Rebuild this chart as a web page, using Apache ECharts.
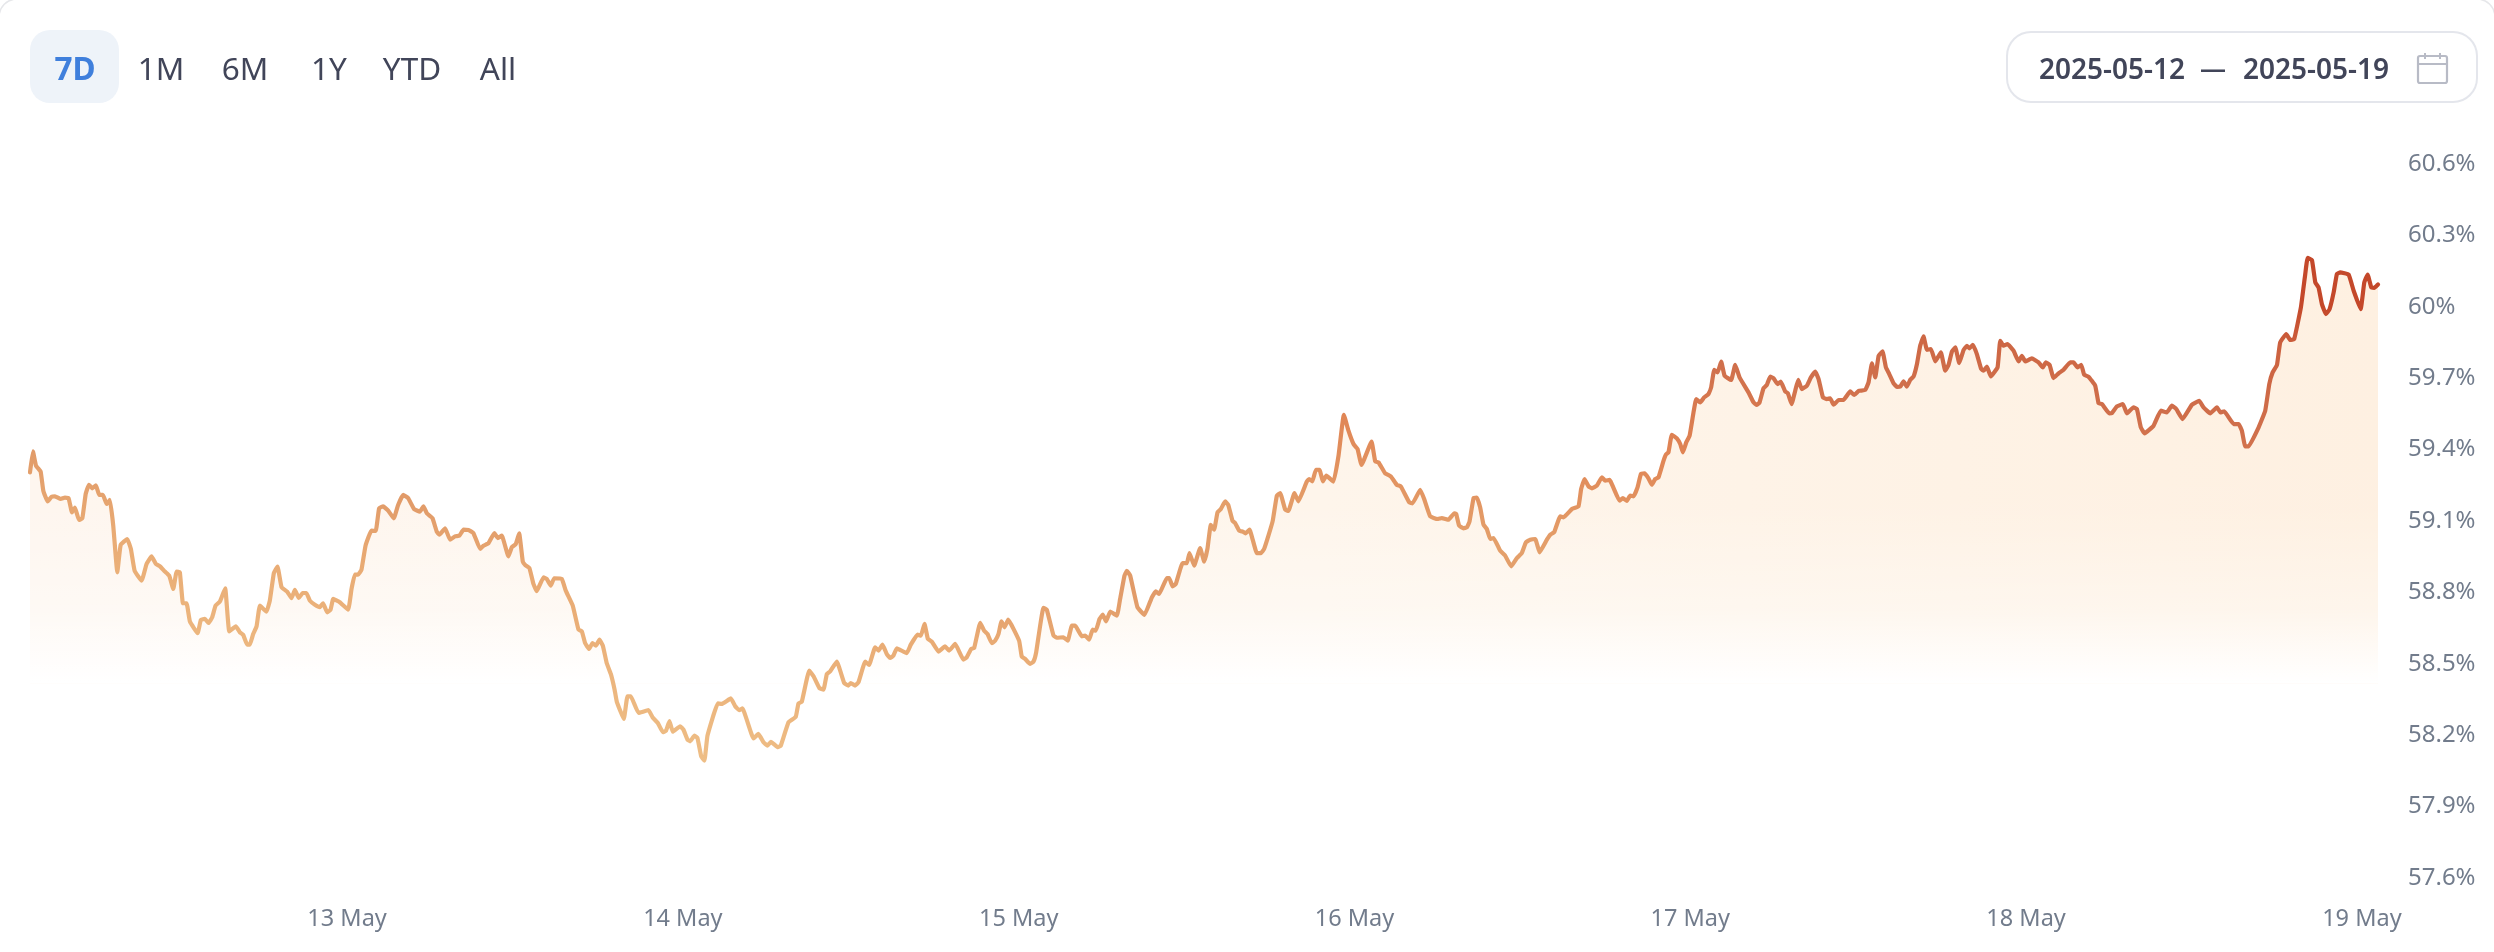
<!DOCTYPE html>
<html><head><meta charset="utf-8">
<style>html,body{margin:0;padding:0;background:#fff}#c{width:2494px;height:952px}</style>
<script src="https://cdn.jsdelivr.net/npm/echarts@6/dist/echarts.min.js"></script>
</head><body><div id="c"></div>
<script>
const rangeButtons=['7D','1M','6M','1Y','YTD','All'];
const dateFrom='2025-05-12', dateTo='2025-05-19';
const dayLabels=['13 May','14 May','15 May','16 May','17 May','18 May','19 May'];
const dayOffsets=[24,48,72,96,120,144,168];
const yMin=57.6,yMax=60.6,yStep=0.3;
const hoursSinceMay12=[1.34,1.55,1.77,2.10,2.29,2.60,2.89,3.13,3.53,3.84,4.10,4.34,4.55,4.84,5.08,5.32,5.55,5.79,6.05,6.29,6.55,6.82,7.05,7.29,7.58,7.82,8.29,8.55,8.82,9.32,9.67,10.03,10.34,10.63,10.98,11.29,11.58,11.82,12.05,12.27,12.53,12.77,13.32,13.55,13.84,14.10,14.36,14.60,14.91,15.29,15.58,16.05,16.34,16.58,16.86,17.05,17.29,17.53,17.77,18.24,18.48,18.77,19.03,19.32,19.72,20.03,20.27,20.55,20.82,21.10,21.34,21.70,22.05,22.29,22.58,22.82,23.01,23.48,24.08,24.32,24.55,24.79,25.03,25.32,25.74,26.05,26.29,26.58,26.94,27.34,27.65,28.01,28.36,28.79,29.20,
29.46,29.70,30.10,30.41,30.60,31.01,31.36,31.72,32.03,32.32,32.67,33.03,33.51,33.75,34.10,34.53,34.77,35.06,35.53,35.77,36.06,36.30,36.56,36.73,37.03,37.32,37.56,38.04,38.27,38.56,38.80,39.35,39.63,40.13,40.54,40.78,41.01,41.30,41.54,41.78,42.04,42.28,42.56,42.85,43.11,43.28,43.78,44.04,44.28,44.83,45.54,45.83,46.21,46.57,46.80,47.04,47.28,47.80,48.04,48.33,48.52,48.83,49.04,49.31,49.54,49.76,50.50,50.78,51.43,51.74,52.02,52.26,53.05,53.40,53.76,54.05,54.29,54.79,55.00,55.55,56.07,56.26,56.50,57.03,57.34,57.76,
58.05,58.29,58.52,59.00,59.53,59.83,60.00,60.31,60.55,61.03,61.31,61.74,61.98,62.27,62.57,62.81,63.05,63.29,64.00,64.29,64.77,65.01,65.27,65.51,65.79,66.27,66.74,67.03,67.46,68.05,68.29,68.60,68.82,69.25,69.53,69.77,70.08,70.32,70.56,70.77,70.99,71.25,72.03,72.22,72.46,72.82,73.06,73.25,73.77,74.01,74.49,74.73,75.20,75.51,75.80,76.04,76.51,76.75,77.04,77.28,77.51,77.78,78.01,78.25,78.54,79.02,79.25,79.56,79.73,79.97,80.49,80.99,81.52,81.80,82.04,82.59,82.76,83.00,83.23,83.71,84.02,84.21,84.54,84.97,
85.26,85.49,85.73,85.97,86.21,86.45,86.76,86.98,87.28,87.47,87.76,88.02,88.21,88.50,89.02,89.31,89.54,89.85,90.16,90.45,90.69,91.05,91.28,91.71,91.99,92.59,92.76,92.99,93.24,93.50,93.74,93.98,94.50,94.86,95.24,95.57,95.93,96.22,96.50,97.22,97.48,97.72,98.19,98.60,99.03,99.31,99.91,100.15,100.70,100.98,101.41,101.93,102.24,102.72,103.13,103.27,103.48,103.79,104.03,104.22,104.51,104.75,104.98,105.22,105.46,105.70,105.94,106.41,106.77,107.20,107.61,107.96,108.25,108.56,108.92,109.23,109.75,109.99,110.27,110.70,110.94,111.54,112.01,112.20,112.44,112.73,112.97,113.32,113.68,113.92,114.23,114.94,
115.18,115.47,115.70,115.94,116.23,116.47,116.73,117.01,117.25,117.49,117.73,118.09,118.25,118.44,118.68,119.04,119.28,119.47,119.71,119.95,120.23,120.42,120.71,120.99,121.30,121.49,121.71,121.95,122.21,122.45,122.92,123.21,123.52,124.16,124.52,124.76,124.95,125.23,125.47,125.71,125.95,126.24,126.47,126.78,126.97,127.24,127.50,127.71,127.97,128.33,128.62,128.93,129.17,129.48,129.76,130.00,130.24,130.60,130.95,131.43,131.72,132.03,132.50,132.74,132.98,133.22,133.46,133.74,133.98,134.22,134.53,134.77,135.00,135.24,135.48,135.72,135.96,136.20,136.43,136.67,136.91,137.20,137.51,137.91,138.22,138.46,138.70,138.94,139.22,139.53,139.77,139.94,140.20,140.48,140.79,140.96,141.20,141.48,141.96,142.15,
142.39,142.67,143.10,143.46,143.70,143.94,144.41,144.89,145.20,145.41,145.68,145.96,146.32,146.68,147.15,147.39,147.68,147.94,148.15,148.46,148.94,149.18,149.42,149.94,150.13,150.49,150.92,151.20,151.68,151.92,152.20,152.47,153.11,153.63,154.06,154.42,154.73,155.18,155.85,156.37,156.68,157.16,157.64,157.88,158.16,158.83,159.19,159.42,159.66,159.90,160.62,161.09,161.38,161.62,161.93,162.16,162.59,162.88,163.16,163.64,163.95,164.12,164.43,164.67,164.90,165.14,165.43,165.69,165.98,166.21,166.45,167.05,167.41,167.91,168.17,168.41,168.67,168.88,169.15];
const dominancePct=[59.296,59.384,59.324,59.299,59.219,59.174,59.194,59.195,59.184,59.190,59.187,59.128,59.148,59.096,59.103,59.205,59.244,59.229,59.241,59.201,59.201,59.163,59.180,59.072,58.876,58.991,59.016,58.974,58.882,58.841,58.911,58.943,58.911,58.901,58.879,58.862,58.806,58.879,58.876,58.746,58.746,58.669,58.620,58.676,58.680,58.663,58.687,58.736,58.753,58.809,58.628,58.649,58.624,58.613,58.572,58.572,58.617,58.648,58.736,58.711,58.757,58.873,58.900,58.813,58.795,58.767,58.802,58.768,58.789,58.789,58.757,58.740,58.730,58.746,58.708,58.719,58.764,58.750,58.719,58.806,58.866,58.866,58.887,58.988,59.051,59.050,59.145,59.153,59.135,59.103,59.159,59.201,59.188,59.142,59.131,
59.153,59.124,59.104,59.047,59.034,59.061,59.013,59.027,59.030,59.055,59.054,59.041,58.974,58.988,58.998,59.041,59.020,59.030,58.943,58.981,58.995,59.040,58.921,58.907,58.894,58.827,58.797,58.855,58.848,58.820,58.851,58.848,58.799,58.736,58.635,58.628,58.579,58.554,58.579,58.568,58.593,58.568,58.494,58.449,58.386,58.332,58.260,58.355,58.355,58.285,58.297,58.267,58.243,58.204,58.211,58.251,58.206,58.229,58.215,58.173,58.166,58.190,58.180,58.103,58.085,58.190,58.325,58.323,58.346,58.313,58.297,58.304,58.178,58.197,58.162,58.148,58.164,58.141,58.148,58.246,58.269,58.325,58.332,58.463,58.439,58.389,
58.383,58.449,58.459,58.501,58.411,58.400,58.411,58.400,58.414,58.501,58.487,58.561,58.547,58.572,58.533,58.516,58.526,58.557,58.536,58.572,58.614,58.610,58.659,58.596,58.585,58.543,58.565,58.547,58.575,58.509,58.519,58.554,58.558,58.664,58.631,58.617,58.578,58.589,58.617,58.670,58.645,58.677,58.589,58.522,58.512,58.491,58.501,58.540,58.727,58.719,58.610,58.601,58.603,58.589,58.652,58.652,58.607,58.610,58.593,58.635,58.631,58.680,58.698,58.670,58.711,58.694,58.764,58.862,58.882,58.862,58.729,58.697,58.771,58.796,58.785,58.852,58.852,58.817,58.827,58.915,58.914,58.957,58.904,58.978,
58.921,58.974,59.075,59.055,59.128,59.142,59.174,59.159,59.093,59.083,59.051,59.047,59.040,59.055,58.957,58.957,58.974,59.030,59.093,59.198,59.209,59.139,59.134,59.209,59.174,59.257,59.268,59.258,59.307,59.307,59.258,59.282,59.257,59.366,59.538,59.471,59.415,59.394,59.327,59.425,59.342,59.338,59.292,59.279,59.243,59.237,59.170,59.166,59.223,59.184,59.111,59.100,59.104,59.097,59.124,59.121,59.072,59.061,59.065,59.089,59.188,59.190,59.149,59.076,59.058,59.016,59.020,58.967,58.946,58.901,58.936,58.957,59.002,59.013,59.016,58.960,59.013,59.034,59.044,59.111,59.107,59.142,59.153,59.226,59.268,59.237,59.229,59.240,59.275,59.261,59.264,59.177,
59.188,59.176,59.198,59.195,59.233,59.289,59.292,59.271,59.244,59.268,59.275,59.345,59.370,59.380,59.454,59.439,59.415,59.380,59.422,59.450,59.548,59.604,59.590,59.611,59.625,59.653,59.727,59.716,59.761,59.702,59.684,59.748,59.695,59.632,59.590,59.579,59.590,59.649,59.663,59.698,59.691,59.667,59.677,59.636,59.629,59.583,59.639,59.685,59.646,59.660,59.695,59.719,59.688,59.611,59.604,59.607,59.580,59.600,59.600,59.636,59.621,59.638,59.642,59.674,59.754,59.695,59.786,59.804,59.737,59.709,59.670,59.655,59.656,59.678,59.656,59.685,59.699,59.751,59.828,59.867,59.811,59.814,59.762,59.800,59.723,59.748,59.804,59.821,59.755,59.810,59.828,59.817,59.832,59.793,59.730,59.723,59.740,59.699,59.737,59.849,
59.828,59.835,59.807,59.762,59.786,59.762,59.775,59.758,59.737,59.758,59.747,59.692,59.712,59.727,59.758,59.758,59.737,59.748,59.706,59.698,59.660,59.586,59.583,59.544,59.545,59.573,59.583,59.544,59.569,59.562,59.485,59.460,59.492,59.555,59.548,59.576,59.562,59.520,59.580,59.596,59.569,59.544,59.569,59.548,59.552,59.499,59.499,59.471,59.405,59.405,59.485,59.555,59.667,59.716,59.747,59.842,59.877,59.852,59.856,59.989,60.129,60.197,60.188,60.094,60.073,60.003,59.961,59.982,60.052,60.129,60.136,60.127,60.059,59.982,60.094,60.127,60.073,60.071,60.085];

const seriesData=hoursSinceMay12.map((h,i)=>[h,dominancePct[i]]);
const grad=(x,y,x2,y2,stops)=>new echarts.graphic.LinearGradient(x,y,x2,y2,stops);
const areaOrigin=58.41;

const chart=echarts.init(document.getElementById('c'),null,{renderer:'canvas'});
const uiFont='"Noto Sans"';
const btnX=[75,161,245,329,412,498];
const btnEls=rangeButtons.map((t,i)=>({type:'text',x:btnX[i],y:71,style:{text:t,font:(i===0?'700 ':'400 ')+'31.5px '+uiFont,fill:i===0?'#3F7FDC':'#414559',textAlign:'center',textVerticalAlign:'middle'}}));
chart.setOption({
 animation:false,backgroundColor:'#fff',
 grid:{left:30,right:116,top:162,bottom:76,containLabel:false},
 xAxis:{type:'value',min:hoursSinceMay12[0],max:hoursSinceMay12[hoursSinceMay12.length-1],
  axisLine:{show:false},axisTick:{show:false},splitLine:{show:false},
  axisLabel:{customValues:dayOffsets,margin:31,fontFamily:uiFont,fontSize:23.5,color:'#727C8C',
   formatter:v=>{const i=dayOffsets.indexOf(v);return i>=0?dayLabels[i]:'';}}},
 yAxis:{type:'value',position:'right',min:yMin,max:yMax,interval:yStep,
  axisLine:{show:false},axisTick:{show:false},splitLine:{show:false},
  axisLabel:{margin:30,formatter:v=>'{a|'+(+v.toFixed(1))+'%}',
   rich:{a:{fontFamily:uiFont,fontSize:24,color:'#727C8C',padding:[4,0,0,0]}}}},
 series:[
  {name:'fill',type:'line',data:seriesData,showSymbol:false,smooth:0.1,silent:true,z:1,lineStyle:{width:0},
   areaStyle:{origin:areaOrigin,opacity:1,color:grad(0,0,1,0,[{offset:0,color:'#FEF6EF'},{offset:.55,color:'#FEF5EB'},{offset:1,color:'#FEF0E1'}])}},
  {name:'fade',type:'line',data:seriesData,showSymbol:false,smooth:0.1,silent:true,z:2,lineStyle:{width:0},
   areaStyle:{origin:areaOrigin,opacity:1,color:grad(0,0,0,1,[{offset:0,color:'rgba(255,255,255,0)'},{offset:.5,color:'rgba(255,255,255,0.02)'},{offset:.7,color:'rgba(255,255,255,0.36)'},{offset:.845,color:'rgba(255,255,255,1)'},{offset:1,color:'rgba(255,255,255,1)'}])}},
  {name:'Dominance',type:'line',data:seriesData,showSymbol:false,smooth:0.1,z:3,
   lineStyle:{width:4.2,join:'round',cap:'round',color:grad(0.2,1,0.237,-0.338,[{offset:0,color:'#F0C08A'},{offset:.05,color:'#EEBD85'},{offset:.26,color:'#E9AB74'},{offset:.37,color:'#E19A68'},{offset:.5,color:'#E4A06B'},{offset:.67,color:'#E08454'},{offset:.8,color:'#D0704C'},{offset:.93,color:'#CC6240'},{offset:1,color:'#C4482A'}])}}
 ],
 graphic:{elements:[
  {type:'rect',z:-10,shape:{x:-1,y:-1,width:2496,height:1100,r:18},style:{fill:'none',stroke:'#E6E7EA',lineWidth:1.5}},
  {type:'rect',shape:{x:30,y:30,width:89,height:73,r:20},style:{fill:'#EEF3F9'}},
  ...btnEls,
  {type:'rect',shape:{x:2007,y:32,width:470,height:70,r:24},style:{fill:'#fff',stroke:'#E4E6EC',lineWidth:2}},
  {type:'text',x:2112,y:71,style:{text:dateFrom,font:'600 28px '+uiFont,fill:'#414559',textAlign:'center',textVerticalAlign:'middle'}},
  {type:'text',x:2213,y:71,style:{text:'—',font:'600 26px '+uiFont,fill:'#414559',textAlign:'center',textVerticalAlign:'middle'}},
  {type:'text',x:2316,y:71,style:{text:dateTo,font:'600 28px '+uiFont,fill:'#414559',textAlign:'center',textVerticalAlign:'middle'}},
  {type:'rect',shape:{x:2418,y:56,width:29,height:27,r:2},style:{fill:'none',stroke:'#B8BBC6',lineWidth:2.2}},
  {type:'line',shape:{x1:2418,y1:64,x2:2447,y2:64},style:{stroke:'#B8BBC6',lineWidth:2}},
  {type:'line',shape:{x1:2425,y1:53,x2:2425,y2:59},style:{stroke:'#B8BBC6',lineWidth:2}},
  {type:'line',shape:{x1:2440,y1:53,x2:2440,y2:59},style:{stroke:'#B8BBC6',lineWidth:2}}
 ]}
});
</script></body></html>
